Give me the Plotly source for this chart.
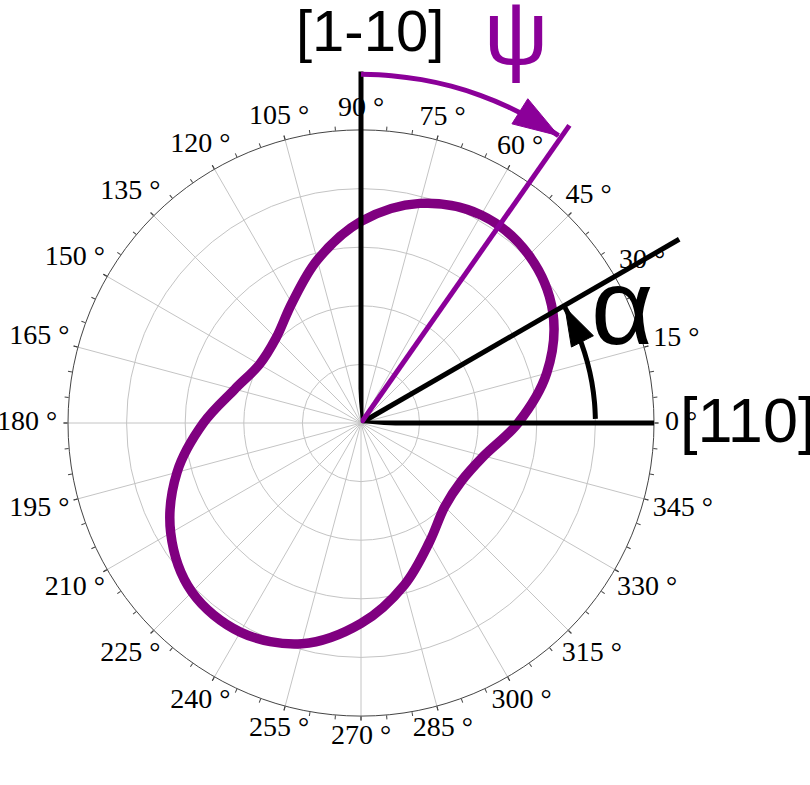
# coding: utf-8
import math
import plotly.graph_objects as go

# measured curve (angle in degrees, radius in grid rings)
theta_deg = [0, 15, 30, 45, 60, 75, 90, 105, 120, 135, 150, 165,
             180, 195, 210, 225, 240, 255, 270, 285, 300, 315, 330, 345, 360]
r_vals = [2.68, 3.28, 3.78, 4.05, 4.10, 3.88, 3.44, 2.88, 2.36, 2.05, 2.00, 2.23,
          2.69, 3.25, 3.75, 4.08, 4.12, 3.90, 3.42, 2.86, 2.34, 2.02, 1.98, 2.17, 2.68]

major_ticks = list(range(0, 360, 15))
minor_ticks = list(range(0, 360, 5))
tick_labels = [str(t) + ' °' for t in major_ticks]

# reference directions and their lengths
dir_110, len_110 = 0, 5.0
dir_1m10, len_1m10 = 90, 6.0
alpha_dir, alpha_len = 30, 6.27
psi_dir, psi_len = 55, 6.2

alpha_arc_theta = [1, 5, 10, 15, 20, 25, 29.5]
alpha_arc_r = 4.0
psi_arc_theta = [90, 85, 80, 75, 70, 65, 60, 55.5]
psi_arc_r = 5.95

W, H = 810, 785
purple = '#800080'
psi_col = '#8B0099'
TICK_FONT = 28

# polar geometry (page pixels)
cx, cy = 361, 423
R_main = 293
ppu = R_main / 5.0
R_big = 410.2
SECTOR = [-5, 95]
k_neg = math.sin(math.radians(5))
R_lab = 361


def px(x):
    return x / W


def py(y):
    return 1 - y / H


# label centres sit a fixed gap outside the rim (ellipse fit of the text box)
def label_r(t, txt):
    w = 0.5 * TICK_FONT * (len(txt) - 2) + 18
    h = 20
    a = math.radians(t)
    ext = math.hypot(math.cos(a) * w / 2, math.sin(a) * h / 2)
    return (R_main + 11 + ext) / ppu


fig = go.Figure()

fig.add_trace(go.Scatterpolar(r=r_vals, theta=theta_deg, mode='lines',
                              line=dict(color=purple, width=9.5, shape='spline'),
                              showlegend=False))

# empty trace so the minor tick overlay is drawn
fig.add_trace(go.Scatterpolar(r=[], theta=[], subplot='polar2', showlegend=False))

# direction lines, on a bigger sector with the same scale
for th, rr, col in [(dir_110, len_110, 'black'), (dir_1m10, len_1m10, 'black'),
                    (alpha_dir, alpha_len, 'black'), (psi_dir, psi_len, psi_col)]:
    fig.add_trace(go.Scatterpolar(r=[0, rr], theta=[th, th], mode='lines',
                                  line=dict(color=col, width=5),
                                  subplot='polar3', showlegend=False))

fig.add_trace(go.Scatterpolar(r=[alpha_arc_r] * len(alpha_arc_theta), theta=alpha_arc_theta,
                              mode='lines+markers',
                              line=dict(color='black', width=5, shape='spline'),
                              marker=dict(symbol='arrow', size=[0] * (len(alpha_arc_theta) - 1) + [40],
                                          angleref='previous', color='black', opacity=1,
                                          line=dict(width=1, color='black')),
                              subplot='polar3', showlegend=False))

fig.add_trace(go.Scatterpolar(r=[psi_arc_r] * len(psi_arc_theta), theta=psi_arc_theta,
                              mode='lines+markers',
                              line=dict(color=psi_col, width=5, shape='spline'),
                              marker=dict(symbol='arrow', size=[0] * (len(psi_arc_theta) - 1) + [48],
                                          angleref='previous', color=psi_col, opacity=1,
                                          line=dict(width=1, color=psi_col)),
                              subplot='polar3', showlegend=False))

# angle labels, centred around the rim
fig.add_trace(go.Scatterpolar(r=[label_r(t, s) for t, s in zip(major_ticks, tick_labels)],
                              theta=major_ticks, text=tick_labels, mode='text',
                              textposition='middle center',
                              textfont=dict(family='Liberation Serif', size=TICK_FONT, color='black'),
                              cliponaxis=False, subplot='polar4', showlegend=False))

dom = dict(x=[px(cx - R_main), px(cx + R_main)], y=[py(cy + R_main), py(cy - R_main)])
dom_big = dict(x=[px(cx - k_neg * R_big), px(cx + R_big)],
               y=[py(cy + k_neg * R_big), py(cy - R_big)])
dom_lab = dict(x=[px(cx - R_lab), px(cx + R_lab)], y=[py(cy + R_lab), py(cy - R_lab)])

fig.update_layout(
    width=W, height=H,
    margin=dict(l=0, r=0, t=0, b=0),
    paper_bgcolor='white',
    showlegend=False,
    polar=dict(
        domain=dom,
        bgcolor='white',
        radialaxis=dict(range=[0, 5], dtick=1, showticklabels=False, ticks='',
                        showline=False, gridcolor='#c4c4c4', gridwidth=1),
        angularaxis=dict(rotation=0, direction='counterclockwise',
                         tickmode='array', tickvals=major_ticks,
                         ticks='outside', ticklen=4, tickcolor='#444',
                         showticklabels=False,
                         showline=True, linecolor='#444', linewidth=1,
                         gridcolor='#c4c4c4', gridwidth=1),
    ),
    polar2=dict(
        domain=dom,
        bgcolor='rgba(0,0,0,0)',
        radialaxis=dict(range=[0, 5], visible=False),
        angularaxis=dict(rotation=0, direction='counterclockwise',
                         tickmode='array', tickvals=minor_ticks,
                         ticks='outside', ticklen=4, tickcolor='#444',
                         showticklabels=False, showline=False, showgrid=False),
    ),
    polar3=dict(
        domain=dom_big,
        sector=SECTOR,
        bgcolor='rgba(0,0,0,0)',
        radialaxis=dict(range=[0, R_big / ppu], visible=False),
        angularaxis=dict(rotation=0, direction='counterclockwise', visible=False),
    ),
    polar4=dict(
        domain=dom_lab,
        bgcolor='rgba(0,0,0,0)',
        radialaxis=dict(range=[0, R_lab / ppu], visible=False),
        angularaxis=dict(rotation=0, direction='counterclockwise', visible=False),
    ),
)

fig.add_annotation(text='[1-10]', x=px(370), y=py(31), xref='paper', yref='paper',
                   xanchor='center', yanchor='middle', showarrow=False,
                   font=dict(family='Liberation Sans', size=58, color='black'))
fig.add_annotation(text='ψ', x=px(516), y=py(33), xref='paper', yref='paper',
                   xanchor='center', yanchor='middle', showarrow=False,
                   font=dict(family='Liberation Sans', size=90, color=psi_col))
fig.add_annotation(text='α', x=px(622), y=py(306), xref='paper', yref='paper',
                   xanchor='center', yanchor='middle', showarrow=False,
                   font=dict(family='Liberation Sans', size=108, color='black'))
fig.add_annotation(text='[110]', x=px(678), y=py(420), xref='paper', yref='paper',
                   xanchor='left', yanchor='middle', showarrow=False,
                   font=dict(family='Liberation Sans', size=63, color='black'))

# drop the default body margin so the figure sits at the page corner
fig.write_html("out.html", config={'displayModeBar': False},
               post_script="document.body.style.margin = '0';")
